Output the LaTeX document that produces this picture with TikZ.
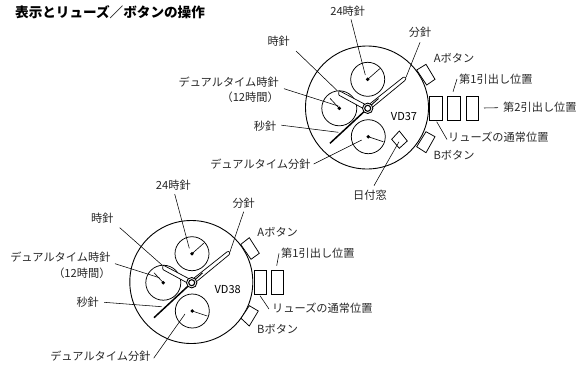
\documentclass[tikz,border=0pt]{standalone}
\usepackage{fontspec}
\setmainfont{Noto Sans CJK JP}
\usepackage{tikz}
\tikzset{
  lbl/.style={font=\fontsize{11.2}{13}\selectfont, inner sep=2pt, text=black!85},
  leader/.style={line width=0.55pt},
  dial/.style={line width=0.9pt},
  subdial/.style={line width=0.75pt},
  subhand/.style={line width=0.6pt},
  hand/.style={line width=0.7pt, fill=white, rounded corners=0.8pt},
  sechand/.style={line width=1.5pt},
  crown/.style={line width=0.75pt},
  btn/.style={line width=0.75pt, fill=white}
}
\begin{document}
\begin{tikzpicture}[x=1pt,y=-1pt]
\useasboundingbox (0,0) rectangle (579,365);
\node [anchor=west, inner sep=0pt, font=\fontsize{13.6}{15}\selectfont\bfseries] (title) at (15,12) {表示とリューズ／ボタンの操作};

\draw [dial] (367,107.5) circle (61.5);
\draw [btn] (416.7,70) -- (426,64.3) -- (435,79.3) -- (426.7,85) -- cycle;
\draw [btn] (416.7,146.7) -- (426,131.7) -- (435,136.7) -- (426,152.7) -- cycle;
\draw [subdial] (367.7,79.3) circle (17);
\draw [subdial] (339.3,108.3) circle (17.5);
\draw [subdial] (368.3,136.7) circle (17);
\fill (367.7,79.3) circle (1.9);
\fill (339.3,108.3) circle (1.9);
\fill (368.3,136.7) circle (1.9);
\draw [subhand] (367.7,79.3) -- (380,68.5);
\draw [subhand] (339.3,108.3) -- (330,98.3);
\draw [subhand] (368.3,136.7) -- (383.3,141.7);
\draw [hand] (368.8,106.3) -- (339,90.6) -- (338.6,95) -- (366.6,110.3) -- cycle;
\draw [hand] (366.3,106.6) -- (403.7,76.9) -- (406,77.7) -- (405.3,80.2) -- (369.1,110) -- cycle;
\draw [sechand] (330,143.3) -- (367.7,108.3);
\draw [line width=0.9pt] (367.7,108.3) -- (378.5,98.5);
\draw [line width=0.9pt, fill=white] (367.7,108.3) circle (5.2);
\draw [line width=1.1pt, fill=white] (367.7,108.3) circle (3);
\draw [line width=0.75pt, fill=white] (399.3,131) -- (407.3,141) -- (399.3,148.3) -- (391.7,139.3) -- cycle;
\draw [crown] (429,96.7) rectangle (442,120);
\draw [crown] (447.3,96.7) rectangle (460.3,120);
\draw [crown] (466,96.7) rectangle (478.7,120);
\node [font=\fontsize{11}{13}\selectfont, inner sep=0pt] (modelA) at (404,116.5) {VD37};

\node [lbl] (hTwentyFourA) at (347.7,11) {24時針};
\node [lbl] (minA) at (420,32) {分針};
\node [lbl] (hourA) at (278.7,41.7) {時針};
\node [lbl, anchor=east] (dualHourA) at (281,81.7) {デュアルタイム時針};
\node [lbl, anchor=east] (dualNoteA) at (281,97.7) {（12時間）};
\node [lbl] (secA) at (265,126.7) {秒針};
\node [lbl, anchor=east] (dualMinA) at (312.7,164) {デュアルタイム分針};
\node [lbl] (dateA) at (370,195) {日付窓};
\node [lbl] (btnAA) at (454,58) {Aボタン};
\node [lbl] (btnBA) at (454,155) {Bボタン};
\node [lbl, anchor=west] (pullOneA) at (457,79) {第1引出し位置};
\node [lbl, anchor=west] (pullTwoA) at (501,107.7) {第2引出し位置};
\node [lbl, anchor=west] (normalA) at (446,137) {リューズの通常位置};

\coordinate (hTwentyFourEndA) at (365.3,75);
\coordinate (minEndA) at (406,77.3);
\coordinate (hourEndA) at (337.3,90.7);
\coordinate (dualHourEndA) at (338.3,106);
\coordinate (secEndA) at (338.3,132.3);
\coordinate (dualMinEndA) at (361.7,140);
\coordinate (dateEndA) at (399,141.7);
\coordinate (pullOneEndA) at (453,91.7);
\coordinate (pullTwoEndA) at (484,108);
\coordinate (normalEndA) at (436.7,121.7);

\draw [leader] ([xshift=3.3pt,yshift=-1pt]hTwentyFourA.south) -- (hTwentyFourEndA);
\draw [leader] ([yshift=-3pt]minA.south) -- (minEndA);
\draw [leader] ([xshift=4pt,yshift=-2pt]hourA.south east) -- (hourEndA);
\draw [leader] ([xshift=3pt,yshift=-7pt]dualHourA.east) -- (dualHourEndA);
\draw [leader] ([xshift=3pt,yshift=1.5pt]secA.east) -- (secEndA);
\draw [leader] ([xshift=1pt]dualMinA.east) -- (dualMinEndA);
\draw [leader] ([xshift=4pt,yshift=2pt]dateA.north) -- (dateEndA);
\draw [leader] ([yshift=-1.7pt]pullOneA.west |- 453,77.3) -- (pullOneEndA);
\draw [leader] ([xshift=-3pt]pullTwoA.west) -- (pullTwoEndA);
\draw [leader] ([xshift=1pt,yshift=-2.5pt]normalA.west) -- (normalEndA);

\draw [dial] (191.3,282) circle (61.5);
\draw [btn] (240.7,244.4) -- (249.3,237.7) -- (259.3,253.3) -- (251,259.3) -- cycle;
\draw [btn] (241,318.3) -- (249.3,305.7) -- (258.3,311) -- (249.3,326) -- cycle;
\draw [subdial] (192,253.7) circle (17);
\draw [subdial] (163.3,282.7) circle (17.5);
\draw [subdial] (192.3,311) circle (17);
\fill (192,253.7) circle (1.9);
\fill (163.3,282.7) circle (1.9);
\fill (192.3,311) circle (1.9);
\draw [subhand] (192,253.7) -- (204,243);
\draw [subhand] (163.3,282.7) -- (154,272.7);
\draw [subhand] (192.3,311) -- (207.3,316);
\draw [hand] (192.8,280.7) -- (163,265) -- (162.6,269.4) -- (190.6,284.7) -- cycle;
\draw [hand] (190.3,281) -- (227.7,251.3) -- (230,252.1) -- (229.3,254.6) -- (193.1,284.4) -- cycle;
\draw [sechand] (154,317.7) -- (191.7,282.7);
\draw [line width=0.9pt] (191.7,282.7) -- (202.5,272.9);
\draw [line width=0.9pt, fill=white] (191.7,282.7) circle (5.2);
\draw [line width=1.1pt, fill=white] (191.7,282.7) circle (3);
\draw [crown] (254,270) rectangle (266,294);
\draw [crown] (271.7,270) rectangle (283.7,294);
\node [font=\fontsize{11}{13}\selectfont, inner sep=0pt] (modelB) at (227.7,290) {VD38};

\node [lbl] (hTwentyFourB) at (173.3,185.7) {24時針};
\node [lbl] (minB) at (243.7,203.3) {分針};
\node [lbl] (hourB) at (102.3,218.3) {時針};
\node [lbl, anchor=east] (dualHourB) at (112.7,256.7) {デュアルタイム時針};
\node [lbl, anchor=east] (dualNoteB) at (112.7,273.3) {（12時間）};
\node [lbl] (secB) at (87.7,302.3) {秒針};
\node [lbl, anchor=east] (dualMinB) at (152.7,355.7) {デュアルタイム分針};
\node [lbl] (btnAB) at (277.7,231.7) {Aボタン};
\node [lbl] (btnBB) at (277.7,329) {Bボタン};
\node [lbl, anchor=west] (pullOneB) at (279,253.3) {第1引出し位置};
\node [lbl, anchor=west] (normalB) at (270,308) {リューズの通常位置};

\coordinate (hTwentyFourEndB) at (189.3,248.3);
\coordinate (minEndB) at (230,251.7);
\coordinate (hourEndB) at (162,265);
\coordinate (dualHourEndB) at (159.3,277.7);
\coordinate (secEndB) at (161.7,306.7);
\coordinate (dualMinEndB) at (185,314);
\coordinate (pullOneEndB) at (276.7,265.7);
\coordinate (normalEndB) at (260,295.7);

\draw [leader] ([xshift=1.4pt,yshift=-1pt]hTwentyFourB.south) -- (hTwentyFourEndB);
\draw [leader] ([yshift=-1pt]minB.south) -- (minEndB);
\draw [leader] ([xshift=4pt,yshift=-2pt]hourB.south east) -- (hourEndB);
\draw [leader] ([xshift=2.3pt,yshift=-7pt]dualHourB.east) -- (dualHourEndB);
\draw [leader] ([xshift=3pt]secB.east) -- (secEndB);
\draw [leader] ([xshift=1pt,yshift=-2.5pt]dualMinB.east) -- (dualMinEndB);
\draw [leader] ([yshift=-2.6pt]pullOneB.west |- 276.7,250.7) -- (pullOneEndB);
\draw [leader] ([xshift=-1pt,yshift=-1pt]normalB.west) -- (normalEndB);
\end{tikzpicture}
\end{document}
